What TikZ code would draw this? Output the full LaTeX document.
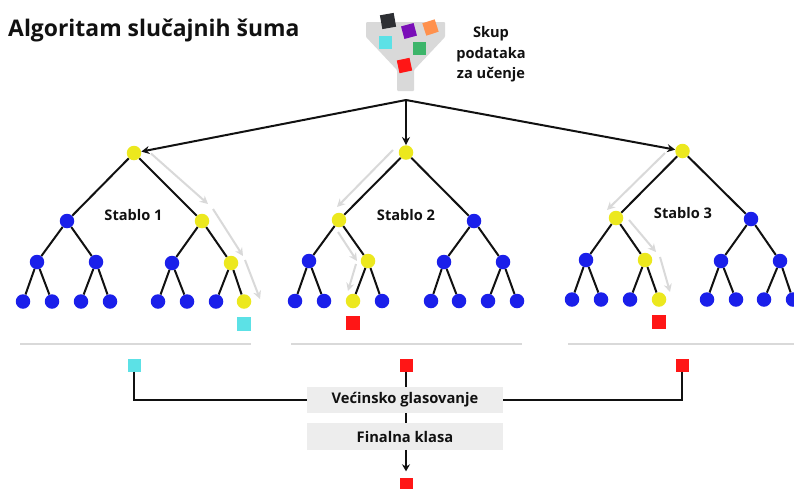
\documentclass[tikz,border=0pt]{standalone}
\usepackage{fontspec}
\setmainfont{Open Sans}
\usetikzlibrary{arrows.meta}
\definecolor{nodeblue}{HTML}{1A1FEA}
\definecolor{nodeyellow}{HTML}{ECE81E}
\definecolor{sqcyan}{HTML}{5CE1E6}
\definecolor{sqred}{HTML}{FF1616}
\definecolor{sqgreen}{HTML}{3CB56A}
\definecolor{sqpurple}{HTML}{7A0FB8}
\definecolor{sqorange}{HTML}{FF914D}
\definecolor{sqdark}{HTML}{2D2F33}
\definecolor{funnelgrey}{HTML}{D9D9D9}
\definecolor{boxgrey}{HTML}{EDEDED}
\definecolor{inkblack}{HTML}{111111}
\tikzset{
  treenode/.style={circle,minimum size=14.5pt,inner sep=0pt,draw=none},
  edge/.style={draw=inkblack,line width=2pt},
  mainarrow/.style={edge,-{Stealth[length=8pt,width=8pt]}},
  greyarrow/.style={draw=funnelgrey,line width=2pt,-{Stealth[length=8pt,width=8pt]}},
  square/.style={minimum size=#1,inner sep=0pt,draw=none},
  square/.default=13pt,
  rulerline/.style={draw=funnelgrey,line width=2pt},
  label/.style={font=\fontsize{14.6}{17}\selectfont\bfseries,text=inkblack},
  stepbox/.style={fill=boxgrey,minimum width=196pt,minimum height=26.5pt,inner sep=0pt,
    font=\fontsize{14.7}{17}\selectfont\bfseries,text=inkblack},
}
\begin{document}
\begin{tikzpicture}[x=1pt,y=-1pt]
\clip (0,0) rectangle (794,488);
\fill[white] (0,0) rectangle (794,488);
% title
\node[anchor=west,inner sep=0pt,font=\fontsize{22.9}{27}\selectfont\bfseries,text=inkblack] (title) at (8,30) {Algoritam slučajnih šuma};
% funnel
\fill[funnelgrey,rounded corners=1pt] (366,22) -- (445,22) -- (445,37) -- (414,70) -- (414,91) -- (397,91) -- (397,70) -- (366,37) -- cycle;
\node[square=14pt,fill=sqdark,rotate=10] (sqA) at (388,21) {};
\node[square=13pt,fill=sqpurple,rotate=15] (sqB) at (409,31) {};
\node[square=13pt,fill=sqorange,rotate=18] (sqC) at (430.5,27.5) {};
\node[square=13pt,fill=sqcyan] (sqD) at (385.5,42.5) {};
\node[square=13pt,fill=sqgreen] (sqE) at (419,48) {};
\node[square=13pt,fill=sqred,rotate=12] (sqF) at (404.5,65.5) {};
\node[label,align=center,font=\fontsize{14.6}{20.5}\selectfont\bfseries] (data) at (491,54.5) {Skup\\podataka\\za učenje};
\coordinate (apex) at (406,100);
% tree nodes
\foreach \n/\x/\y/\c in {
 1r/134/153/nodeyellow,1a/67/221/nodeblue,1b/202/221/nodeyellow,
 1c/37/262/nodeblue,1d/96/262/nodeblue,1e/172/263/nodeblue,1f/231/263/nodeyellow,
 1g/23/301.5/nodeblue,1h/52/301.5/nodeblue,1i/81/301.5/nodeblue,1j/110/301.5/nodeblue,
 1k/158/301.5/nodeblue,1l/187/301.5/nodeblue,1m/216/301.5/nodeblue,1n/244/301.5/nodeyellow,
 2r/406/152.5/nodeyellow,2a/339/220/nodeyellow,2b/474/221/nodeblue,
 2c/309/261/nodeblue,2d/368/261/nodeyellow,2e/444/262/nodeblue,2f/503/262/nodeblue,
 2g/295/301/nodeblue,2h/324/301/nodeblue,2i/353/301/nodeyellow,2j/382/301/nodeblue,
 2k/431/301/nodeblue,2l/459/301/nodeblue,2m/488/301/nodeblue,2n/517/301/nodeblue,
 3r/682.5/151/nodeyellow,3a/616/218/nodeyellow,3b/751/219/nodeblue,
 3c/586/260/nodeblue,3d/645/260/nodeyellow,3e/721/261/nodeblue,3f/780/261/nodeblue,
 3g/572/299.5/nodeblue,3h/601/299.5/nodeblue,3i/630/299.5/nodeblue,3j/659/299.5/nodeyellow,
 3k/707/299.5/nodeblue,3l/736/299.5/nodeblue,3m/764/299.5/nodeblue,3n/793/299.5/nodeblue}
 {\node[treenode,fill=\c] (\n) at (\x,\y) {};}
% tree edges
\foreach \t in {1,2,3}{
 \foreach \p/\q in {r/a,r/b,a/c,a/d,b/e,b/f,c/g,c/h,d/i,d/j,e/k,e/l,f/m,f/n}
  {\draw[edge] (\t\p) -- (\t\q);}
}
% main arrows
\draw[mainarrow] (apex) -- (1r);
\draw[mainarrow] (apex) -- (2r);
\draw[mainarrow] (apex) -- (3r);
% grey path arrows
\foreach \i/\xa/\ya/\xb/\yb in {
 A/151/153.5/208/204, B/213/209/243/256, C/245/260/260/299,
 D/393/150/337/207, E/338/232/357/261, F/356/264/348/291,
 G/665/153/607/210, H/629/220/656/252, I/660/257/670/292}
 {\coordinate (g\i s) at (\xa,\ya);
  \coordinate (g\i e) at (\xb,\yb);
  \draw[greyarrow] (g\i s) -- (g\i e);}
% tree labels
\node[label] (s1) at (133.5,215) {Stablo 1};
\node[label] (s2) at (406,215) {Stablo 2};
\node[label] (s3) at (683,213) {Stablo 3};
% leaf squares
\node[square=14pt,fill=sqcyan] (res1) at (244,324) {};
\node[square=14pt,fill=sqred] (res2) at (353,323) {};
\node[square=14pt,fill=sqred] (res3) at (659,322) {};
% rules
\coordinate (ruleAl) at (20,343.5); \coordinate (ruleAr) at (251,343.5);
\coordinate (ruleBl) at (291,343.5); \coordinate (ruleBr) at (522,343.5);
\coordinate (ruleCl) at (568,343.5); \coordinate (ruleCr) at (794,343.5);
\draw[rulerline] (ruleAl) -- (ruleAr);
\draw[rulerline] (ruleBl) -- (ruleBr);
\draw[rulerline] (ruleCl) -- (ruleCr);
% vote section
\node[square=13pt,fill=sqcyan] (v1) at (134,365) {};
\node[square=13pt,fill=sqred] (v2) at (406,365) {};
\node[square=13pt,fill=sqred] (v3) at (682,365) {};
\node[stepbox] (vote) at (405,400) {Većinsko glasovanje};
\node[stepbox] (final) at (405,436.5) {Finalna klasa};
\node[square=13pt,fill=sqred] (out) at (406,484) {};
\draw[edge] (v1.south) |- (vote.west);
\draw[edge] (v3.south) |- (vote.east);
\draw[edge] (v2.south) -- (v2.south |- vote.north);
\draw[edge] (v2.south |- vote.south) -- (v2.south |- final.north);
\draw[edge,shorten >=6pt,-{Stealth[length=7pt,width=8pt]}] (v2.south |- final.south) -- (out.north);
\end{tikzpicture}
\end{document}
